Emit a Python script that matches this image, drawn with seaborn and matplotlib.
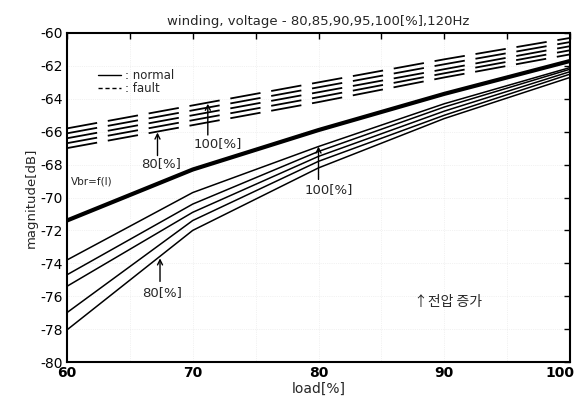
import numpy as np
import pandas as pd
import seaborn as sns
import matplotlib
matplotlib.use("Agg")
import matplotlib.pyplot as plt
import matplotlib.transforms as mtransforms
from matplotlib.lines import Line2D

# ---------------- data ----------------
load = [60, 70, 80, 90, 100]
voltages = ["100", "95", "90", "85", "80"]

normal_100 = [-73.8, -69.7, -66.9, -64.3, -62.1]
normal_95 = [-74.7, -70.4, -67.2, -64.5, -62.2]
normal_90 = [-75.4, -70.9, -67.5, -64.75, -62.35]
normal_85 = [-77.0, -71.4, -67.8, -65.0, -62.5]
normal_80 = [-78.05, -72.0, -68.2, -65.2, -62.7]

fault_100 = [-65.8, -64.4, -63.0, -61.6, -60.3]
fault_95 = [-66.1, -64.7, -63.3, -61.9, -60.55]
fault_90 = [-66.4, -65.0, -63.6, -62.2, -60.8]
fault_85 = [-66.7, -65.3, -63.9, -62.45, -61.05]
fault_80 = [-67.0, -65.6, -64.2, -62.7, -61.3]

vbr = [-71.4, -68.3, -65.9, -63.7, -61.7]

title = "winding, voltage - 80,85,90,95,100[%],120Hz"
xlabel = "load[%]"
ylabel = "magnitude[dB]"
xticks = [60, 65, 70, 75, 80, 85, 90, 95, 100]
xticklabels = ["60", "", "70", "", "80", "", "90", "", "100"]
yticks = [-60, -62, -64, -66, -68, -70, -72, -74, -76, -78, -80]

normal = [normal_100, normal_95, normal_90, normal_85, normal_80]
fault = [fault_100, fault_95, fault_90, fault_85, fault_80]

rows = []
for v, s in zip(voltages, normal):
    for x, y in zip(load, s):
        rows.append(dict(load=x, mag=y, voltage=v, kind="normal"))
for v, s in zip(voltages, fault):
    for x, y in zip(load, s):
        rows.append(dict(load=x, mag=y, voltage=v, kind="fault"))
df = pd.DataFrame(rows)
df_vbr = pd.DataFrame(dict(load=load, mag=vbr))

# ---------------- plot ----------------
sns.set_theme(style="white")
plt.rcParams["font.family"] = ["DejaVu Sans"]

fig = plt.figure(figsize=(5.77, 4.0), dpi=100)
ax = fig.add_axes([0.116, 0.095, 0.872, 0.8225])

ax.grid(True, color="0.9", linestyle=":", linewidth=0.5)

sns.lineplot(data=df[df.kind == "normal"], x="load", y="mag", units="voltage",
             estimator=None, color="black", lw=1.1, ax=ax, legend=False)
n_before = len(ax.lines)
sns.lineplot(data=df[df.kind == "fault"], x="load", y="mag", units="voltage",
             estimator=None, color="black", lw=1.3, ax=ax, legend=False)
for ln in ax.lines[n_before:]:
    ln.set_dashes((17, 6))
sns.lineplot(data=df_vbr, x="load", y="mag", color="black", lw=3.0, ax=ax,
             legend=False)

ax.set_xlim(60, 100)
ax.set_ylim(-80, -60)
ax.set_xticks(xticks)
ax.set_xticklabels(xticklabels, fontweight="bold", fontsize=10)
ax.set_yticks(yticks)
ax.set_yticklabels([str(t) for t in yticks], fontsize=10)
ax.tick_params(direction="in", length=4, width=1, top=True, right=True,
               colors="black", pad=3)
for sp in ax.spines.values():
    sp.set_color("black")
    sp.set_linewidth(1.5)

# shift the last x tick label left so it stays inside the figure
lab = ax.get_xticklabels()[-1]
lab.set_transform(lab.get_transform() +
                  mtransforms.ScaledTranslation(-10 / 100, 0, fig.dpi_scale_trans))

ax.set_title(title, fontsize=9.5, pad=6)
ax.set_xlabel(xlabel, fontsize=10, labelpad=1)
ax.set_ylabel(ylabel, fontsize=9.5, labelpad=2)

# legend
handles = [Line2D([], [], color="black", lw=1.0),
           Line2D([], [], color="black", lw=1.0, dashes=(3, 2))]
ax.legend(handles, [": normal", ": fault"], loc="upper left",
          bbox_to_anchor=(0.052, 0.905), frameon=False, fontsize=8.5,
          handlelength=2.0, handletextpad=0.3, labelspacing=0.0,
          borderaxespad=0)

arrow = dict(arrowstyle="->", color="black", lw=1.0, mutation_scale=9,
             shrinkA=0, shrinkB=0)
ax.annotate("", xy=(67.2, -66.05), xytext=(67.2, -67.45), arrowprops=arrow)
ax.text(67.5, -67.95, "80[%]", ha="center", va="center", fontsize=9.5)
ax.annotate("", xy=(71.2, -64.3), xytext=(71.2, -66.2), arrowprops=arrow)
ax.text(72.0, -66.7, "100[%]", ha="center", va="center", fontsize=9.5)
ax.text(60.3, -69.0, "Vbr=f(I)", ha="left", va="center", fontsize=7.5)
ax.annotate("", xy=(67.4, -73.7), xytext=(67.4, -75.1), arrowprops=arrow)
ax.text(67.6, -75.8, "80[%]", ha="center", va="center", fontsize=9.5)
ax.annotate("", xy=(80.0, -66.9), xytext=(80.0, -68.9), arrowprops=arrow)
ax.text(80.8, -69.5, "100[%]", ha="center", va="center", fontsize=9.5)
ax.text(90.3, -76.35, "↑전압 증가", ha="center", va="center", fontsize=10,
        family=["Noto Sans CJK KR", "DejaVu Sans"])

fig.savefig("out.png", dpi=100)
